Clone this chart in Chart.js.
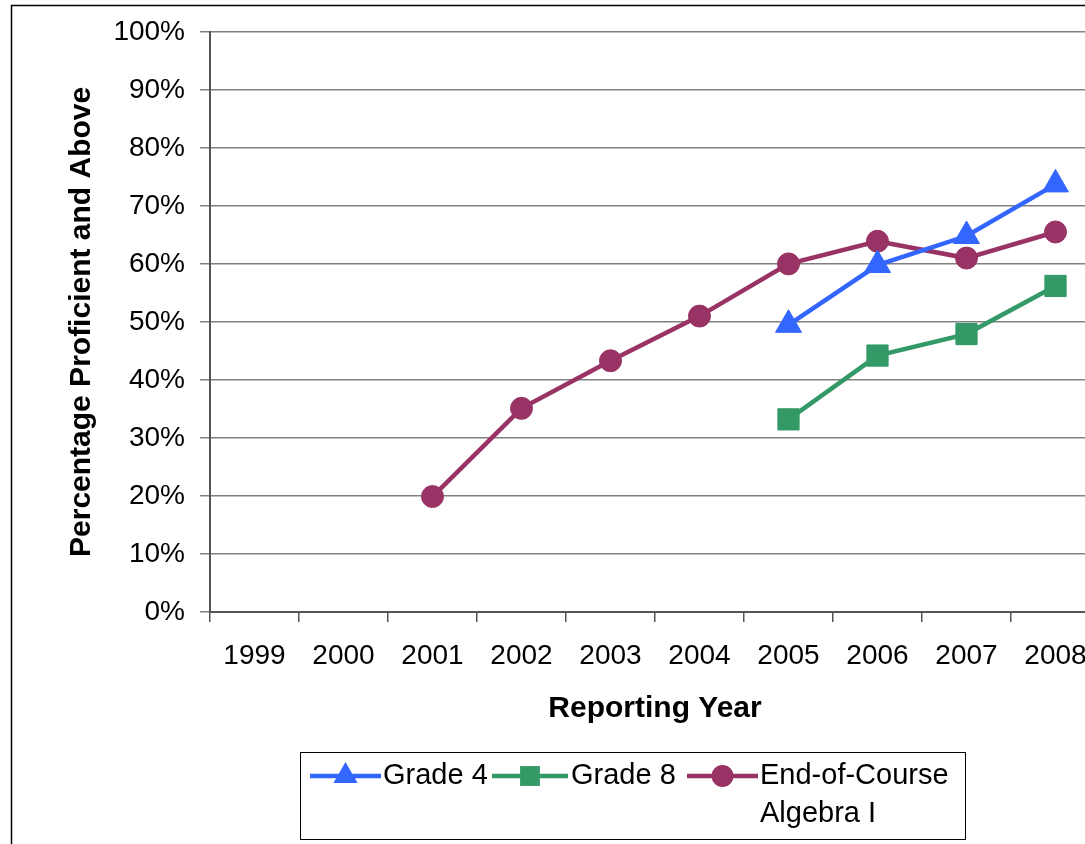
<!DOCTYPE html>
<html lang="en">
<head>
    <meta charset="UTF-8">
    <title>Percentage Proficient and Above</title>
    <script src="https://cdn.jsdelivr.net/npm/chart.js"></script>
    <style>
        html, body { margin: 0; padding: 0; background: #fff; overflow: hidden; }
        #wrap { width: 1120px; height: 844px; }
    </style>
</head>
<body>
    <div id="wrap">
        <canvas id="chart" width="1120" height="844"></canvas>
    </div>
    <script>
        // values (percent)
        const years = ['1999', '2000', '2001', '2002', '2003', '2004', '2005', '2006', '2007', '2008'];
        const grade4 = [null, null, null, null, null, null, 49.5, 59.8, 64.8, 73.7];
        const grade8 = [null, null, null, null, null, null, 33.2, 44.2, 47.9, 56.2];
        const algebra1 = [null, null, 19.9, 35.1, 43.3, 51.0, 60.0, 63.9, 61.0, 65.5];
        const seriesNames = ['Grade 4', 'Grade 8', 'End-of-Course Algebra I'];

        const BLUE = '#3366FF';
        const GREEN = '#339966';
        const MAROON = '#993366';

        Chart.defaults.font.family = '"Liberation Sans", Arial, sans-serif';
        Chart.defaults.color = '#000';

        // outer frame + legend box drawn by hand
        const extras = {
            id: 'extras',
            afterDraw(chart) {
                const ctx = chart.ctx;
                ctx.save();
                ctx.strokeStyle = '#000';
                ctx.lineWidth = 1.5;
                ctx.beginPath();
                ctx.moveTo(11.5, 844);
                ctx.lineTo(11.5, 5.5);
                ctx.lineTo(1120, 5.5);
                ctx.stroke();

                ctx.lineWidth = 1;
                ctx.strokeRect(300.5, 752.5, 665, 87);

                const items = [
                    { x1: 310, x2: 381, color: BLUE, style: 'triangle', r: 14, text: ['Grade 4'], tx: 383 },
                    { x1: 492, x2: 568, color: GREEN, style: 'rect', r: 14, text: ['Grade 8'], tx: 571 },
                    { x1: 687, x2: 758, color: MAROON, style: 'circle', r: 11, text: ['End-of-Course', 'Algebra I'], tx: 760 }
                ];
                const ly = 776;
                ctx.font = '29px "Liberation Sans", Arial, sans-serif';
                ctx.textBaseline = 'middle';
                ctx.textAlign = 'left';
                items.forEach(it => {
                    ctx.strokeStyle = it.color;
                    ctx.lineWidth = 4.5;
                    ctx.beginPath();
                    ctx.moveTo(it.x1, ly);
                    ctx.lineTo(it.x2, ly);
                    ctx.stroke();
                    ctx.fillStyle = it.color;
                    Chart.helpers.drawPoint(ctx, { pointStyle: it.style, radius: it.r, rotation: 0, borderWidth: 0 }, (it.x1 + it.x2) / 2, ly);
                    ctx.fillStyle = '#000';
                    it.text.forEach((t, i) => ctx.fillText(t, it.tx, ly + i * 38));
                });
                ctx.restore();
            }
        };

        function lineSet(label, data, color, style, radius) {
            return {
                label: label,
                data: data,
                borderColor: color,
                backgroundColor: color,
                borderWidth: 4.5,
                pointStyle: style,
                pointRadius: radius,
                pointBackgroundColor: color,
                pointBorderColor: color,
                pointBorderWidth: 1,
                tension: 0,
                spanGaps: false
            };
        }

        const ctx = document.getElementById('chart').getContext('2d');
        new Chart(ctx, {
            type: 'line',
            data: {
                labels: years,
                datasets: [
                    lineSet(seriesNames[0], grade4, BLUE, 'triangle', 15),
                    lineSet(seriesNames[1], grade8, GREEN, 'rect', 15),
                    lineSet(seriesNames[2], algebra1, MAROON, 'circle', 11)
                ]
            },
            plugins: [extras],
            options: {
                responsive: false,
                devicePixelRatio: 1,
                animation: false,
                events: [],
                layout: { padding: { top: 30, left: 0, right: 20, bottom: 112 } },
                plugins: {
                    legend: { display: false },
                    tooltip: { enabled: false }
                },
                scales: {
                    x: {
                        offset: true,
                        afterFit(scale) { scale.height = 120; },
                        grid: {
                            offset: true,
                            drawOnChartArea: false,
                            tickLength: 10,
                            color: '#555',
                            lineWidth: 1.5
                        },
                        border: { color: '#555', width: 2 },
                        ticks: { font: { size: 28 }, padding: 17, maxRotation: 0, autoSkip: false },
                        title: {
                            display: true,
                            text: 'Reporting Year',
                            font: { size: 30, weight: 'bold' },
                            padding: { top: 0, bottom: 5 }
                        }
                    },
                    y: {
                        min: 0,
                        max: 100,
                        afterFit(scale) { scale.width = 210; },
                        grid: {
                            color: '#808080',
                            lineWidth: 1.5,
                            tickLength: 10
                        },
                        border: { color: '#555', width: 2 },
                        ticks: {
                            stepSize: 10,
                            font: { size: 28 },
                            padding: 15,
                            callback: v => v + '%'
                        },
                        title: {
                            display: true,
                            text: 'Percentage Proficient and Above',
                            font: { size: 30, weight: 'bold' },
                            padding: { top: 64, bottom: 0 }
                        }
                    }
                }
            }
        });
    </script>
</body>
</html>
